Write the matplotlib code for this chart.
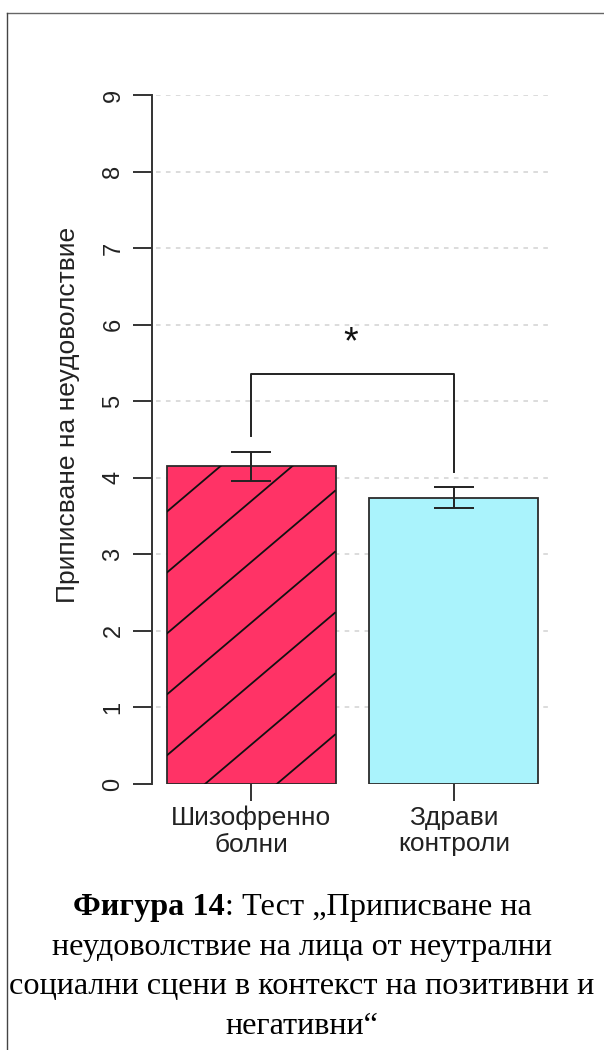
import numpy as np
import matplotlib.pyplot as plt
from matplotlib.lines import Line2D

plt.rcParams['font.family'] = ['Liberation Sans', 'DejaVu Sans']

# group means with their standard errors
groups = ['Шизофренно\nболни', 'Здрави\nконтроли']
means = [4.15, 3.74]
errors = [0.19, 0.135]
y_ticks = [0, 1, 2, 3, 4, 5, 6, 7, 8, 9]
y_label = 'Приписване на неудоволствие'

# significance bracket between the two groups
sig_label = '*'
bracket_top = 5.35
bracket_feet = [4.54, 4.08]
star_y = 5.87

caption_bold = 'Фигура 14'
caption_rest = ': Тест „Приписване на'
caption_lines = ['неудоволствие на лица от неутрални',
                 'социални сцени в контекст на позитивни и',
                 'негативни“']

bar_colors = ['#FF3366', '#AAF3FC']
edge = '#2b2b2b'
W, H = 604, 1050

fig = plt.figure(figsize=(W / 100, H / 100), dpi=100)
ax = fig.add_axes([151.8 / W, 1 - 784 / H, 401.4 / W, 689 / H])

# barplot layout: width 1, space 0.2
xpos = 0.7 + 1.2 * np.arange(len(means))
ax.set_xlim(0.112, 2.488)
ax.set_ylim(0, 9)

for t in y_ticks[1:]:
    ax.axhline(t, xmin=0.01, xmax=0.99, color='#d2d2d2', lw=1.1,
               ls=(0, (3, 3.5)), zorder=0)

bars = ax.bar(xpos, means, width=1.0, color=bar_colors, edgecolor=edge,
              linewidth=1.3, zorder=2)

# sparse diagonal hatching on the first bar
hatched = bars[0]
x_left = hatched.get_x()
x_right = x_left + hatched.get_width()
slope = 1.873
spacing = 0.796
offset = -0.425
for k in range(-8, 14):
    y0 = offset + k * spacing
    ln, = ax.plot([x_left, x_right], [y0, y0 + slope * (x_right - x_left)],
                  color='#111111', lw=1.3, zorder=3, solid_capstyle='butt')
    ln.set_clip_path(hatched)

ax.errorbar(xpos, means, yerr=errors, fmt='none', ecolor='#222222',
            elinewidth=1.4, capsize=14.5, capthick=1.4, zorder=4)

# bracket and star
ax.plot([xpos[0], xpos[0], xpos[1], xpos[1]],
        [bracket_feet[0], bracket_top, bracket_top, bracket_feet[1]],
        color='#222222', lw=1.4, zorder=4)
ax.annotate(sig_label, (xpos.mean(), star_y), xytext=(-1, -6.5),
            textcoords='offset points', ha='center', va='center',
            fontsize=27, color='#111111')

for s in ['top', 'right', 'bottom']:
    ax.spines[s].set_visible(False)
ax.spines['left'].set_bounds(0, 9)
ax.spines['left'].set_color('#333333')
ax.spines['left'].set_linewidth(1.4)

ax.set_yticks(y_ticks)
ax.set_yticklabels([str(t) for t in y_ticks], rotation=90, va='center')
ax.tick_params(axis='y', length=13.7, width=1.4, color='#333333',
               pad=6, labelsize=17, labelcolor='#222222')
ax.set_xticks(xpos)
ax.set_xticklabels(groups, linespacing=1.15)
ax.tick_params(axis='x', length=12.5, width=1.4, color='#333333',
               pad=3, labelsize=19, labelcolor='#222222')
ax.set_ylabel(y_label, fontsize=19, color='#222222')
ax.yaxis.set_label_coords(-0.18, 0.535)

# caption under the chart
serif = ['Liberation Serif', 'DejaVu Serif']
cap_size = 23.2
renderer = fig.canvas.get_renderer()
t1 = fig.text(0, 1 - 908 / H, caption_bold, fontsize=cap_size, family=serif,
              weight='bold', va='center', ha='left')
t2 = fig.text(0, 1 - 908 / H, caption_rest, fontsize=cap_size, family=serif,
              va='center', ha='left')
w1 = t1.get_window_extent(renderer).width
w2 = t2.get_window_extent(renderer).width
start = (W / 2 - (w1 + w2) / 2) / W
t1.set_x(start)
t2.set_x(start + w1 / W)
for i, line in enumerate(caption_lines):
    fig.text(0.5, 1 - (948 + 39 * i) / H, line, fontsize=cap_size, family=serif,
             ha='center', va='center')

# page frame
fx = 7.5 / W
fy = 1 - 13 / H
fig.add_artist(Line2D([fx, 1], [fy, fy], color='#666666', lw=1.0))
fig.add_artist(Line2D([fx, fx], [0, fy], color='#444444', lw=1.0))

fig.savefig('out.png', dpi=100)
